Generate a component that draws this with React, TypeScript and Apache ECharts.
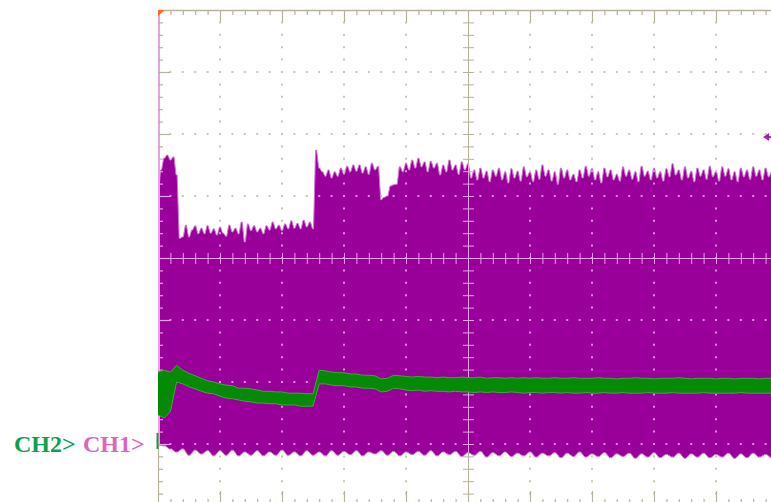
import React, { useEffect, useRef } from "react";
import * as echarts from "echarts";

// Oscilloscope screen: 10 horizontal divisions x 8 vertical divisions (centre = 0)
const X_MIN = 0;
const X_MAX = 10;
const Y_MIN = -4;
const Y_MAX = 4;
const MINOR = 0.2;

// CH1 (purple) upper envelope, in divisions, sampled every 0.05 div
const CH1_UPPER_STEP = 0.05;
const ch1Upper = [
  1.02, 1.42, 1.61, 1.66, 1.58, 1.63, 1.34, 0.32, 0.34, 0.53,
  0.34, 0.45, 0.52, 0.39, 0.48, 0.39, 0.52, 0.4, 0.47, 0.37,
  0.5, 0.4, 0.35, 0.53, 0.42, 0.48, 0.39, 0.58, 0.26, 0.55,
  0.44, 0.52, 0.42, 0.48, 0.39, 0.52, 0.45, 0.58, 0.47, 0.53,
  0.44, 0.55, 0.47, 0.6, 0.48, 0.56, 0.47, 0.61, 0.5, 0.58,
  0.47, 1.74, 1.45, 1.39, 1.32, 1.42, 1.29, 1.39, 1.32, 1.45,
  1.35, 1.48, 1.39, 1.5, 1.4, 1.5, 1.37, 1.47, 1.35, 1.53,
  1.42, 1.48, 0.94, 0.98, 1.0, 1.16, 1.18, 1.19, 1.47, 1.39,
  1.53, 1.42, 1.58, 1.45, 1.61, 1.47, 1.55, 1.39, 1.56, 1.45,
  1.53, 1.34, 1.5, 1.39, 1.58, 1.42, 1.5, 1.35, 1.55, 1.42,
  1.52, 1.29, 1.42, 1.26, 1.45, 1.29, 1.4, 1.23, 1.42, 1.32,
  1.45, 1.26, 1.39, 1.21, 1.44, 1.29, 1.4, 1.24, 1.47, 1.31,
  1.39, 1.23, 1.42, 1.27, 1.5, 1.32, 1.42, 1.24, 1.39, 1.19,
  1.45, 1.29, 1.42, 1.26, 1.35, 1.23, 1.42, 1.29, 1.48, 1.32,
  1.44, 1.26, 1.39, 1.21, 1.45, 1.31, 1.42, 1.26, 1.35, 1.24,
  1.47, 1.32, 1.42, 1.27, 1.39, 1.23, 1.48, 1.32, 1.4, 1.26,
  1.45, 1.29, 1.39, 1.24, 1.44, 1.31, 1.52, 1.34, 1.42, 1.26,
  1.47, 1.29, 1.4, 1.23, 1.45, 1.32, 1.42, 1.27, 1.48, 1.31,
  1.4, 1.24, 1.47, 1.32, 1.44, 1.26, 1.39, 1.23, 1.45, 1.31,
  1.42, 1.27, 1.47, 1.32, 1.42, 1.26, 1.45, 1.31, 1.39,
];

// CH1 lower envelope, sampled every 0.1 div
const CH1_LOWER_STEP = 0.1;
const ch1Lower = [
  -3.02, -3.03, -3.08, -3.13, -3.08, -3.18, -3.1, -3.16, -3.11, -3.19,
  -3.11, -3.18, -3.1, -3.19, -3.13, -3.18, -3.11, -3.19, -3.13, -3.18,
  -3.1, -3.18, -3.13, -3.19, -3.11, -3.18, -3.13, -3.19, -3.11, -3.18,
  -3.12, -3.17, -3.11, -3.19, -3.13, -3.16, -3.11, -3.18, -3.12, -3.19,
  -3.13, -3.17, -3.12, -3.18, -3.11, -3.19, -3.13, -3.17, -3.12, -3.2,
  -3.14, -3.18, -3.12, -3.21, -3.14, -3.19, -3.13, -3.2, -3.15, -3.19,
  -3.13, -3.21, -3.15, -3.19, -3.14, -3.22, -3.15, -3.2, -3.13, -3.21,
  -3.16, -3.2, -3.14, -3.22, -3.16, -3.2, -3.15, -3.23, -3.16, -3.21,
  -3.14, -3.22, -3.17, -3.21, -3.15, -3.23, -3.16, -3.21, -3.15, -3.22,
  -3.17, -3.21, -3.15, -3.23, -3.16, -3.22, -3.15, -3.21, -3.17, -3.22,
];

// CH2 (green) band, sampled every 0.1 div
const CH2_STEP = 0.1;
const ch2Upper = [
  -1.84, -1.81, -1.84, -1.73, -1.81, -1.86, -1.9, -1.94, -1.98, -2.0,
  -2.03, -2.05, -2.06, -2.1, -2.1, -2.11, -2.13, -2.15, -2.15, -2.16,
  -2.16, -2.18, -2.18, -2.18, -2.19, -2.19, -1.81, -1.82, -1.84, -1.85,
  -1.85, -1.87, -1.87, -1.89, -1.89, -1.9, -1.95, -1.94, -1.89, -1.9,
  -1.91, -1.92, -1.91, -1.92, -1.92, -1.93, -1.92, -1.93, -1.93, -1.92,
  -1.93, -1.93, -1.92, -1.94, -1.93, -1.93, -1.94, -1.93, -1.94, -1.93,
  -1.94, -1.93, -1.94, -1.94, -1.93, -1.94, -1.94, -1.93, -1.94, -1.94,
  -1.94, -1.93, -1.94, -1.94, -1.95, -1.94, -1.94, -1.93, -1.94, -1.94,
  -1.95, -1.94, -1.94, -1.94, -1.93, -1.94, -1.95, -1.94, -1.94, -1.94,
  -1.95, -1.94, -1.94, -1.95, -1.94, -1.94, -1.94, -1.95, -1.94, -1.94,
];
const ch2Lower = [
  -2.53, -2.58, -2.48, -2.0, -2.03, -2.08, -2.11, -2.15, -2.18, -2.19,
  -2.23, -2.26, -2.27, -2.29, -2.31, -2.32, -2.34, -2.34, -2.35, -2.35,
  -2.37, -2.37, -2.37, -2.39, -2.39, -2.39, -2.03, -2.03, -2.05, -2.06,
  -2.06, -2.08, -2.08, -2.1, -2.1, -2.11, -2.16, -2.15, -2.1, -2.11,
  -2.13, -2.14, -2.13, -2.15, -2.14, -2.15, -2.15, -2.16, -2.15, -2.16,
  -2.16, -2.17, -2.16, -2.17, -2.16, -2.17, -2.17, -2.16, -2.17, -2.18,
  -2.17, -2.17, -2.18, -2.17, -2.17, -2.18, -2.17, -2.18, -2.18, -2.17,
  -2.18, -2.18, -2.17, -2.18, -2.18, -2.17, -2.18, -2.18, -2.18, -2.17,
  -2.18, -2.18, -2.18, -2.17, -2.18, -2.18, -2.18, -2.18, -2.17, -2.18,
  -2.18, -2.18, -2.18, -2.18, -2.17, -2.18, -2.18, -2.18, -2.18, -2.18,
];

// Markers
const TRIGGER_LEVEL = 1.95; // right-edge trigger level arrow (div)
const TRIGGER_ARROW_X = 9.76;
const CH2_GROUND_TOP = -2.82;
const CH2_GROUND_BOTTOM = -3.08;
const channelLabels = ["CH2>", "CH1>"];
const channelLabelColors = ["#0ea04e", "#e064be"];
const channelLabelX = [14, 83];

const CH1_FILL = "#990099";
const CH1_EDGE = "#cf78cf";
const CH2_FILL = "#058a05";
const CH2_EDGE = "#3aaa3a";

function interp(arr: number[], step: number, x: number) {
  const f = x / step;
  const i = Math.floor(f);
  if (i < 0) return arr[0];
  if (i >= arr.length - 1) return arr[arr.length - 1];
  const t = f - i;
  return arr[i] * (1 - t) + arr[i + 1] * t;
}

function insideCh1(x: number, y: number) {
  return (
    y <= interp(ch1Upper, CH1_UPPER_STEP, x) &&
    y >= interp(ch1Lower, CH1_LOWER_STEP, x)
  );
}

// Converts samples to screen points; with a plateau fraction > 0 each sample is
// drawn as a narrow flat-topped spike, like a peak-detect scope trace.
function toPoints(api: any, arr: number[], step: number, plateau: number) {
  const pts: number[][] = [];
  arr.forEach((v, i) => {
    if (plateau > 0) {
      const xa = Math.max(X_MIN, i * step - step * plateau * 0.5);
      const xb = i * step + step * plateau * 0.5;
      pts.push(api.coord([xa, v]));
      pts.push(api.coord([xb, v]));
    } else {
      pts.push(api.coord([i * step, v]));
    }
  });
  return pts;
}

function bandRenderer(
  upper: number[],
  uStep: number,
  lower: number[],
  lStep: number,
  fill: string,
  edge: string,
  plateau: number
) {
  return (_params: any, api: any) => {
    const up = toPoints(api, upper, uStep, plateau);
    const lo = toPoints(api, lower, lStep, plateau);
    const poly = up.concat(lo.slice().reverse());
    return {
      type: "group",
      children: [
        { type: "polygon", shape: { points: poly }, style: { fill, stroke: null } },
        { type: "polyline", shape: { points: up }, style: { stroke: edge, lineWidth: 1, fill: null } },
        { type: "polyline", shape: { points: lo }, style: { stroke: edge, lineWidth: 1, fill: null } },
      ],
    };
  };
}

const OLIVE_DOT = "#cbc7b1";
const PINK_DOT = "#e08ae0";
const OLIVE_LINE = "#b7b39a";
const PINK_LINE = "#ea9fea";

function gridRenderer(_params: any, api: any) {
  const ch: any[] = [];
  const dot = (xv: number, yv: number) => {
    const p = api.coord([xv, yv]);
    ch.push({
      type: "rect",
      shape: { x: p[0] - 1, y: p[1] - 1, width: 2, height: 2 },
      style: { fill: insideCh1(xv, yv) ? PINK_DOT : OLIVE_DOT },
    });
  };
  const seg = (x1: number, y1: number, x2: number, y2: number, color: string, w = 1) => {
    ch.push({
      type: "line",
      shape: { x1, y1, x2, y2 },
      style: { stroke: color, lineWidth: w },
    });
  };
  const nX = Math.round((X_MAX - X_MIN) / MINOR);
  const nY = Math.round((Y_MAX - Y_MIN) / MINOR);
  // dotted major verticals
  for (let k = 1; k < 10; k++) {
    if (k === 5) continue;
    for (let j = 1; j < nY; j++) dot(k, Y_MIN + j * MINOR);
  }
  // dotted major horizontals
  for (let m = -3; m <= 3; m++) {
    if (m === 0) continue;
    for (let j = 1; j < nX; j++) {
      const xv = X_MIN + j * MINOR;
      if (Math.abs(xv - Math.round(xv)) < 1e-6) continue;
      dot(xv, m);
    }
  }
  // centre vertical line
  const cx = api.coord([5, 0])[0];
  const topY = api.coord([5, Y_MAX])[1];
  const botY = api.coord([5, Y_MIN])[1];
  const uY = api.coord([5, interp(ch1Upper, CH1_UPPER_STEP, 5)])[1];
  const lY = api.coord([5, interp(ch1Lower, CH1_LOWER_STEP, 5)])[1];
  seg(cx + 0.5, topY, cx + 0.5, uY, OLIVE_LINE);
  seg(cx + 0.5, uY, cx + 0.5, lY, PINK_LINE);
  seg(cx + 0.5, lY, cx + 0.5, botY, OLIVE_LINE);
  for (let j = 1; j < nY; j++) {
    const yv = Y_MIN + j * MINOR;
    const p = api.coord([5, yv]);
    seg(cx - 5, p[1] + 0.5, cx + 6, p[1] + 0.5, insideCh1(5, yv) ? PINK_LINE : OLIVE_LINE);
  }
  // centre horizontal line
  const cy = api.coord([0, 0])[1];
  const x0 = api.coord([X_MIN, 0])[0];
  const x1 = api.coord([X_MAX, 0])[0];
  seg(x0, cy + 0.5, x1, cy + 0.5, PINK_LINE);
  for (let j = 1; j < nX; j++) {
    const xv = X_MIN + j * MINOR;
    const p = api.coord([xv, 0]);
    seg(p[0] + 0.5, cy - 5, p[0] + 0.5, cy + 6, insideCh1(xv, 0) ? PINK_LINE : OLIVE_LINE);
  }
  // top and bottom borders with ticks
  seg(x0, topY + 0.5, x1, topY + 0.5, OLIVE_LINE, 1.5);
  seg(x0, botY - 0.5, x1, botY - 0.5, OLIVE_LINE, 1.5);
  for (let j = 1; j < nX; j++) {
    const xv = X_MIN + j * MINOR;
    const major = Math.abs(xv - Math.round(xv)) < 1e-6;
    const p = api.coord([xv, 0]);
    seg(p[0] + 0.5, topY, p[0] + 0.5, topY + (major ? 12 : 5), OLIVE_LINE, 1.2);
    seg(p[0] + 0.5, botY, p[0] + 0.5, botY - (major ? 15 : 7), OLIVE_LINE, 1.2);
  }
  // left border with ticks
  const lowAt0 = api.coord([0, interp(ch1Lower, CH1_LOWER_STEP, 0)])[1];
  seg(x0 + 1, topY, x0 + 1, lowAt0, PINK_LINE, 2);
  seg(x0 + 0.5, lowAt0, x0 + 0.5, botY, OLIVE_LINE, 1.2);
  for (let j = 1; j < nY; j++) {
    const yv = Y_MIN + j * MINOR;
    const major = Math.abs(yv - Math.round(yv)) < 1e-6;
    const p = api.coord([0, yv]);
    seg(x0, p[1] + 0.5, x0 + (major ? 12 : 5), p[1] + 0.5, insideCh1(0.1, yv) ? PINK_LINE : OLIVE_LINE, 1.2);
  }
  // trigger position marker (top-left)
  const tl = api.coord([X_MIN, Y_MAX]);
  ch.push({
    type: "polygon",
    shape: { points: [[tl[0], tl[1]], [tl[0] + 7, tl[1]], [tl[0], tl[1] + 6]] },
    style: { fill: "#ff6a2a" },
  });
  // trigger level arrow (right edge)
  const ta = api.coord([TRIGGER_ARROW_X, TRIGGER_LEVEL]);
  ch.push({
    type: "polygon",
    shape: { points: [[ta[0], ta[1]], [ta[0] + 6, ta[1] - 4], [ta[0] + 6, ta[1] + 4]] },
    style: { fill: "#a81ca8" },
  });
  seg(ta[0] + 5, ta[1], ta[0] + 10, ta[1], "#a81ca8", 2);
  return { type: "group", children: ch };
}

function markerRenderer(_params: any, api: any) {
  const a = api.coord([0, CH2_GROUND_TOP]);
  const b = api.coord([0, CH2_GROUND_BOTTOM]);
  return {
    type: "line",
    shape: { x1: a[0] - 0.5, y1: a[1], x2: b[0] - 0.5, y2: b[1] },
    style: { stroke: "#1f9a2a", lineWidth: 2 },
  };
}

export default function App() {
  const ref = useRef<HTMLDivElement>(null);
  useEffect(() => {
    if (!ref.current) return;
    const chart = echarts.init(ref.current, undefined, { renderer: "svg" });
    const labelY = 444;
    chart.setOption({
      animation: false,
      backgroundColor: "#ffffff",
      grid: { left: 158, top: 10, width: 620, height: 496, outerBoundsMode: "none", containLabel: false },
      xAxis: { type: "value", min: X_MIN, max: X_MAX, show: false },
      yAxis: { type: "value", min: Y_MIN, max: Y_MAX, show: false },
      graphic: channelLabels.map((t, i) => ({
        type: "text",
        x: channelLabelX[i],
        y: labelY,
        style: {
          text: t,
          fill: channelLabelColors[i],
          font: 'bold 24px "Liberation Serif", "Times New Roman", serif',
          verticalAlign: "middle",
        },
      })),
      series: [
        {
          type: "custom",
          name: "CH1",
          z: 2,
          silent: true,
          data: [[0, 0]],
          renderItem: bandRenderer(ch1Upper, CH1_UPPER_STEP, ch1Lower, CH1_LOWER_STEP, CH1_FILL, CH1_EDGE, 0.35),
        },
        {
          type: "custom",
          name: "graticule",
          z: 3,
          silent: true,
          data: [[0, 0]],
          renderItem: gridRenderer,
        },
        {
          type: "custom",
          name: "CH2",
          z: 4,
          silent: true,
          data: [[0, 0]],
          renderItem: bandRenderer(ch2Upper, CH2_STEP, ch2Lower, CH2_STEP, CH2_FILL, CH2_EDGE, 0),
        },
        {
          type: "custom",
          name: "CH2 ground",
          z: 5,
          silent: true,
          data: [[0, 0]],
          renderItem: markerRenderer,
        },
      ],
    });
    return () => chart.dispose();
  }, []);
  return (
    <div
      ref={ref}
      style={{ position: "fixed", left: 0, top: 0, width: 771, height: 502, background: "#fff" }}
    />
  );
}
